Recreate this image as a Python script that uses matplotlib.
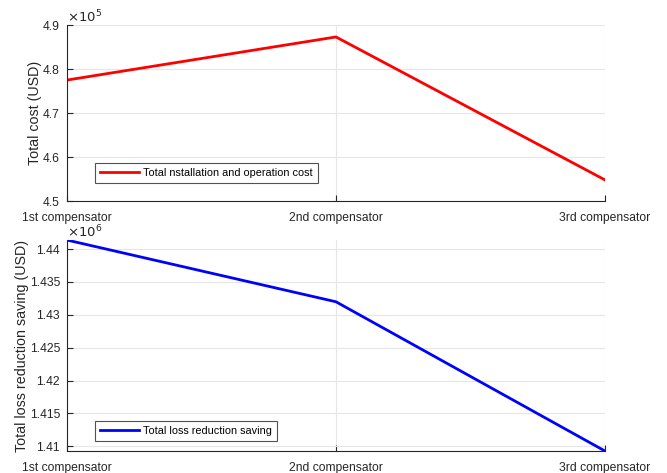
import matplotlib.pyplot as plt
from matplotlib.ticker import FuncFormatter

plt.rcParams['font.family'] = ['Liberation Sans', 'DejaVu Sans']

# compensator placement results
stages = ['1st compensator', '2nd compensator', '3rd compensator']
total_cost = [4.775e5, 4.873e5, 4.548e5]
loss_saving = [1.44137e6, 1.43198e6, 1.40928e6]

cost_ticks = [4.5e5, 4.6e5, 4.7e5, 4.8e5, 4.9e5]
saving_ticks = [1.41e6, 1.415e6, 1.42e6, 1.425e6, 1.43e6, 1.435e6, 1.44e6]

TICK_FS = 8.7
DARK = '#262626'


def style_axes(ax):
    # matlab-like look: grid on, box off, ticks inward
    ax.grid(True, color='#e6e6e6', linewidth=0.8)
    ax.set_axisbelow(True)
    ax.spines['top'].set_visible(False)
    ax.spines['right'].set_visible(False)
    for s in ('left', 'bottom'):
        ax.spines[s].set_color(DARK)
        ax.spines[s].set_linewidth(0.8)
    ax.tick_params(direction='in', length=4, width=0.8, colors=DARK,
                   labelsize=TICK_FS, labelcolor=DARK)
    ax.tick_params(axis='x', pad=8)
    ax.tick_params(axis='y', pad=5)


def add_legend(ax, y0):
    leg = ax.legend(loc='lower left', bbox_to_anchor=(0.052, y0),
                    borderaxespad=0, fontsize=7.8, frameon=True,
                    fancybox=False, handlelength=3.6, handletextpad=0.4,
                    borderpad=0.45, edgecolor=DARK)
    leg.get_frame().set_linewidth(0.8)
    return leg


fig = plt.figure(figsize=(6.67, 4.73), dpi=100)
ax1 = fig.add_axes([0.1004, 0.575, 0.8066, 0.372])
ax2 = fig.add_axes([0.1004, 0.0465, 0.8066, 0.446])

x = list(range(len(stages)))

ax1.plot(x, total_cost, color='#ff0000', linewidth=2,
         label='Total nstallation and operation cost')
ax1.set_xlim(0, 2)
ax1.set_ylim(4.5e5, 4.9e5)
ax1.set_yticks(cost_ticks)
ax1.yaxis.set_major_formatter(FuncFormatter(lambda v, p: f'{v / 1e5:g}'))
ax1.set_xticks(x)
ax1.set_xticklabels(stages)
ax1.set_ylabel('Total cost (USD)', fontsize=10.3, color=DARK, labelpad=0.5)
style_axes(ax1)
ax1.text(0.0, 1.0, r'$\times 10^{5}$', transform=ax1.transAxes,
         fontsize=9.5, color=DARK, ha='left', va='bottom')
add_legend(ax1, 0.102)

ax2.plot(x, loss_saving, color='#0000ff', linewidth=2,
         label='Total loss reduction saving')
ax2.set_xlim(0, 2)
ax2.set_ylim(min(loss_saving), max(loss_saving))
ax2.set_yticks(saving_ticks)
ax2.yaxis.set_major_formatter(FuncFormatter(lambda v, p: f'{v / 1e6:g}'))
ax2.set_xticks(x)
ax2.set_xticklabels(stages)
ax2.set_ylabel('Total loss reduction saving (USD)', fontsize=10.3,
               color=DARK, labelpad=0.5)
style_axes(ax2)
ax2.text(0.0, 1.0, r'$\times 10^{6}$', transform=ax2.transAxes,
         fontsize=9.5, color=DARK, ha='left', va='bottom')
add_legend(ax2, 0.047)

fig.savefig('out.png', dpi=100)
